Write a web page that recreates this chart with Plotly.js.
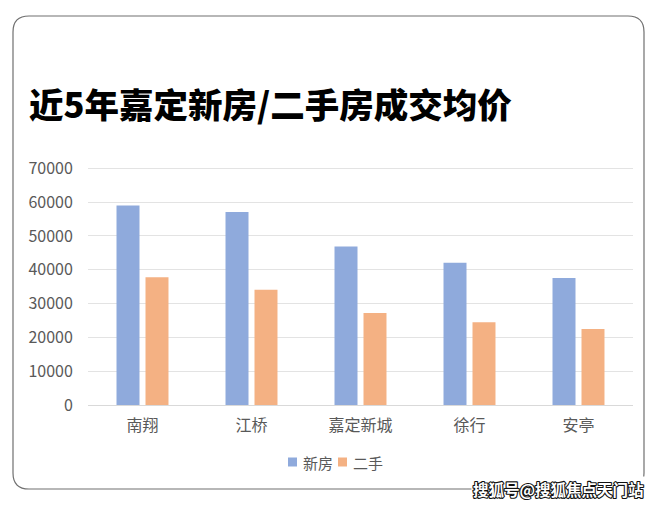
<!DOCTYPE html>
<html>
<head>
<meta charset="utf-8">
<script src="https://cdn.plot.ly/plotly-3.0.1.min.js"></script>
<style>
  html, body { margin: 0; padding: 0; background: #fff; }
  #chart { width: 660px; height: 506px; }
</style>
</head>
<body>
<div id="chart"></div>
<script>
// Data
const categories = ["南翔", "江桥", "嘉定新城", "徐行", "安亭"];
const newHomes = [59000, 57100, 46900, 42100, 37600];
const resale = [37800, 34100, 27200, 24500, 22500];
const seriesNames = ["新房", "二手"];
const seriesColors = ['#8faadc', '#f4b183'];
const yTicks = [0, 10000, 20000, 30000, 40000, 50000, 60000, 70000];

// Plot area in pixels
const yMax = 70400;
const L = 88, R = 633, B = 405;
const T = Math.round(B - 237 * yMax / 70000);
const W = R - L, H = B - T;
const px = x => (x - L) / W;
const py = y => (B - y) / H;

// Card outline (rounded rectangle), pixel corners
const cl = 13, ct = 16, cr = 644, cb = 489, rad = 16;
const cardPath =
  `M ${px(cl + rad)},${py(ct)} L ${px(cr - rad)},${py(ct)} ` +
  `Q ${px(cr)},${py(ct)} ${px(cr)},${py(ct + rad)} ` +
  `L ${px(cr)},${py(cb - rad)} Q ${px(cr)},${py(cb)} ${px(cr - rad)},${py(cb)} ` +
  `L ${px(cl + rad)},${py(cb)} Q ${px(cl)},${py(cb)} ${px(cl)},${py(cb - rad)} ` +
  `L ${px(cl)},${py(ct + rad)} Q ${px(cl)},${py(ct)} ${px(cl + rad)},${py(ct)} Z`;

const fontFam = '"Noto Sans CJK SC", "Noto Sans", sans-serif';
const grey = '#595959';

const data = [
  { type: 'bar', name: seriesNames[0], x: categories, y: newHomes,
    marker: { color: seriesColors[0] }, hoverinfo: 'x+y' },
  { type: 'bar', name: seriesNames[1], x: categories, y: resale,
    marker: { color: seriesColors[1] }, hoverinfo: 'x+y' }
];

// Legend (drawn as key squares + labels)
const legendX = [288, 338];   // left edge of each key square, px
const legendY = 462;          // vertical centre, px
const legendShapes = seriesNames.map((n, i) => ({
  type: 'rect', xref: 'paper', yref: 'paper',
  x0: px(legendX[i]), x1: px(legendX[i] + 9),
  y0: py(legendY - 4.5), y1: py(legendY + 4.5),
  fillcolor: seriesColors[i], line: { width: 0 }
}));
const legendLabels = seriesNames.map((n, i) => ({
  xref: 'paper', yref: 'paper', x: px(legendX[i] + 13), y: py(legendY),
  xanchor: 'left', yanchor: 'middle', text: n, showarrow: false,
  font: { family: fontFam, size: 15, color: grey }
}));

const layout = {
  width: 660, height: 506,
  margin: { l: L, r: 660 - R, t: T, b: 506 - B, pad: 0 },
  paper_bgcolor: '#ffffff', plot_bgcolor: '#ffffff',
  barmode: 'group', bargap: 0.468, bargroupgap: 0.207,
  font: { family: fontFam, color: grey, size: 16 },
  title: {
    text: '近5年嘉定新房/二手房成交均价',
    font: { family: fontFam, size: 34.5, color: '#000000', weight: 900 },
    xref: 'container', yref: 'container',
    x: 29 / 660, xanchor: 'left', y: 1 - 106 / 506, yanchor: 'middle'
  },
  xaxis: {
    type: 'category', showgrid: false, showline: true, linecolor: '#d9d9d9', linewidth: 1,
    ticks: '', ticklen: 0, ticklabelstandoff: 6,
    tickfont: { size: 16, color: grey, family: fontFam },
    fixedrange: true, zeroline: false
  },
  yaxis: {
    range: [0, yMax], tickvals: yTicks, ticktext: yTicks.map(String),
    showgrid: true, gridcolor: '#e3e3e3', gridwidth: 1, zeroline: false, showline: false,
    ticks: 'outside', ticklen: 11, tickcolor: 'rgba(0,0,0,0)',
    tickfont: { size: 16, color: grey, family: fontFam }, fixedrange: true
  },
  showlegend: false,
  shapes: [
    { type: 'path', xref: 'paper', yref: 'paper', path: cardPath,
      line: { color: '#707070', width: 1.2 }, fillcolor: 'rgba(0,0,0,0)', layer: 'below' }
  ].concat(legendShapes),
  annotations: legendLabels.concat([
    { xref: 'paper', yref: 'paper', x: px(646), y: py(489), xanchor: 'right', yanchor: 'middle',
      text: '<b>搜狐号@搜狐焦点天门站</b>', showarrow: false, bgcolor: '#ffffff',
      font: { family: fontFam, size: 15.5, color: '#ffffff' }, borderpad: 1,
      name: 'watermark' }
  ])
};

Plotly.newPlot('chart', data, layout, { displayModeBar: false, staticPlot: true }).then(() => {
  const texts = document.querySelectorAll('.annotation-text');
  const t = texts[texts.length - 1];
  if (t) {
    t.style.stroke = '#111';
    t.style.strokeWidth = '2.2px';
    t.style.paintOrder = 'stroke';
    t.style.strokeLinejoin = 'round';
  }
});
</script>
</body>
</html>
